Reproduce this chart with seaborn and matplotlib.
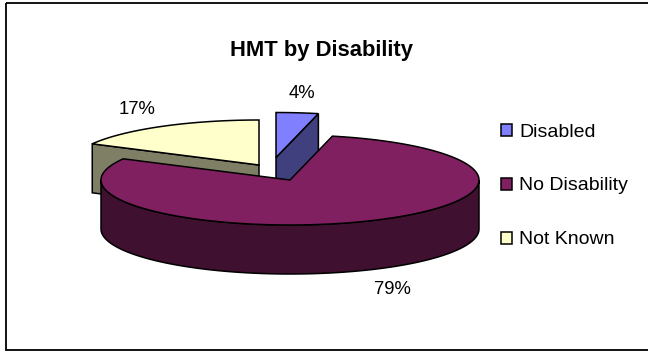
import numpy as np
import matplotlib
matplotlib.use("Agg")
import matplotlib.pyplot as plt
from matplotlib.patches import Polygon, Patch, Rectangle
import seaborn as sns

categories = ["Disabled", "No Disability", "Not Known"]
shares = [3.6, 79.2, 17.2]
title = "HMT by Disability"

top_colors = sns.color_palette(["#8080FF", "#802060", "#FFFFCC"])
side_colors = sns.color_palette(["#40407F", "#401030", "#7F7F66"])

# layout (pixel space of the axes)
RX, RY, DEPTH = 189, 45, 49
APEX = {"Disabled": (276, 157.5), "No Disability": (290, 180), "Not Known": (259, 165)}
LABEL_POS = {"Disabled": (301.5, 94), "No Disability": (392.5, 289.5), "Not Known": (137, 110)}
LW = 1.1

sns.set_theme(style="white")
plt.rcParams["font.family"] = ["Liberation Sans", "DejaVu Sans"]

fig = plt.figure(figsize=(6.48, 3.52), dpi=100)
ax = fig.add_axes([0, 0, 1, 1])
ax.set_xlim(0, 648)
ax.set_ylim(352, 0)
ax.axis("off")

ax.add_patch(Rectangle((6, 2.5), 660, 347.5, fill=False, ec="black", lw=1.3, zorder=0))


def rim(cx, cy, a0, a1, dy=0):
    t = np.radians(np.linspace(a0, a1, 240))
    return np.column_stack([cx + RX * np.sin(t), cy - RY * np.cos(t) + dy])


edges = np.concatenate([[0], np.cumsum(shares)]) * 3.6
order = [2, 0, 1]  # back to front
for z, i in enumerate(order):
    name = categories[i]
    cx, cy = APEX[name]
    a0, a1 = edges[i], edges[i + 1]
    base = 2 + z * 2
    # cut face (visible for the back slices)
    if name == "Not Known":
        p = rim(cx, cy, a0, a0)[0]
        face = [p, (cx, cy), (cx, cy + DEPTH), (p[0], p[1] + DEPTH)]
        ax.add_patch(Polygon(face, fc=side_colors[i], ec="black", lw=LW, zorder=base))
    elif name == "Disabled":
        p = rim(cx, cy, a1, a1)[0]
        face = [p, (cx, cy), (cx, cy + DEPTH), (p[0], p[1] + DEPTH)]
        ax.add_patch(Polygon(face, fc=side_colors[i], ec="black", lw=LW, zorder=base))
    else:
        upper = rim(cx, cy, max(a0, 90), min(a1, 270))
        lower = rim(cx, cy, max(a0, 90), min(a1, 270), DEPTH)[::-1]
        ax.add_patch(Polygon(np.vstack([upper, lower]), fc=side_colors[i], ec="black", lw=LW, zorder=base))
    # top face
    top = np.vstack([[(cx, cy)], rim(cx, cy, a0, a1)])
    ax.add_patch(Polygon(top, fc=top_colors[i], ec="black", lw=LW, joinstyle="miter", zorder=base + 1))

for name, v in zip(categories, shares):
    x, y = LABEL_POS[name]
    ax.text(x, y, f"{v:.0f}%", ha="center", va="center", fontsize=13.3, color="black", zorder=10)

ax.text(321.5, 50.5, title, ha="center", va="center", fontsize=15.8, fontweight="bold", color="black")

handles = [Patch(fc=c, ec="black", lw=LW) for c in top_colors]
ax.legend(handles, categories, loc="center left", bbox_to_anchor=(501 / 648, 1 - 186 / 352),
          frameon=False, fontsize=14, labelcolor="black", handlelength=0.57, handleheight=0.57,
          handletextpad=0.36, labelspacing=1.9, borderpad=0, borderaxespad=0)

fig.savefig("out.png", dpi=100)
